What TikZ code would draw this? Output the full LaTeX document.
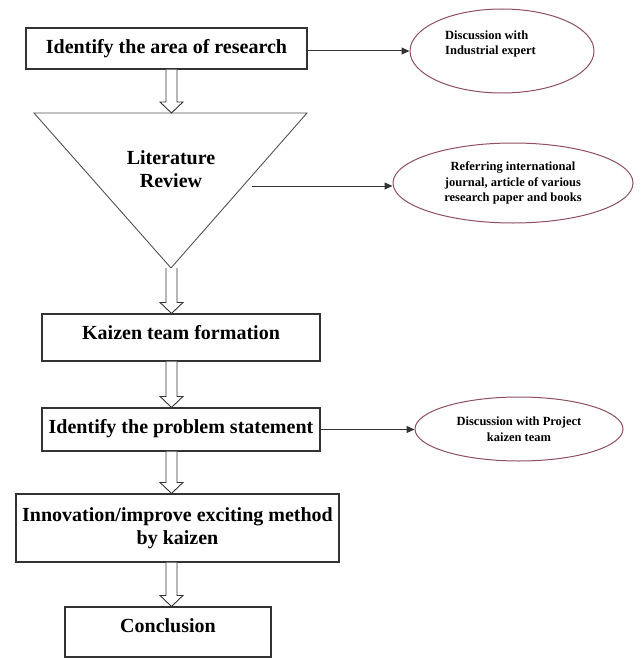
\documentclass[tikz,border=0pt]{standalone}
\usepackage{fontspec}
\setmainfont{Liberation Serif}
\usetikzlibrary{arrows.meta,shapes.geometric,calc}
\definecolor{edge}{HTML}{333333}
\definecolor{ring}{HTML}{8E4F5E}
\begin{document}
\begin{tikzpicture}[x=1pt,y=-1pt,
 box/.style={draw=edge,line width=1.1pt,rectangle,inner sep=0pt,font=\fontsize{20}{23}\selectfont\bfseries,align=center},
 oval/.style={draw=ring,line width=1pt,ellipse,inner sep=0pt,font=\fontsize{12.5}{15.5}\selectfont\bfseries,align=center},
 small/.style={inner sep=0pt,font=\fontsize{12.5}{15.5}\selectfont\bfseries},
 link/.style={draw=edge,line width=1pt,-{Triangle[length=8pt,width=7pt]}},
 barrow/.style={draw=edge,line width=0.9pt,fill=white,line join=miter,
   to path={let \p1=(\tikztostart),\p2=(\tikztotarget) in
     (\x1-5.5pt,\y1) -- (\x1-5.5pt,\y2+11pt) -- (\x1-11.5pt,\y2+11pt) -- (\x2,\y2)
     -- (\x1+11.5pt,\y2+11pt) -- (\x1+5.5pt,\y2+11pt) -- (\x1+5.5pt,\y1)}}
]
\useasboundingbox (0,0) rectangle (642,658);

% main column
\node[box,minimum width=281pt,minimum height=41pt,text height=13.5pt,text depth=3pt] (b1) at (166.5,48.5) {Identify the area of research};
\draw[draw=edge!85,line width=0.9pt] (34,113) -- (307,113) -- (171,268) -- cycle;
\coordinate (tt) at (171.5,113);
\coordinate (ta) at (171.5,268);
\node[inner sep=0pt,font=\fontsize{20}{23}\selectfont\bfseries,align=center] (lit) at (171,169) {Literature\\Review};
\node[box,minimum width=278pt,minimum height=47pt,text height=13.5pt,text depth=9pt] (b2) at (181,337.5) {Kaizen team formation};
\node[box,minimum width=278pt,minimum height=43pt,text height=13.5pt,text depth=5pt] (b3) at (181,429.5) {Identify the problem statement};
\node[box,minimum width=323pt,minimum height=68pt] (b4) at (177.5,528) {Innovation/improve exciting method\\by kaizen};
\node[box,minimum width=206pt,minimum height=50pt,text height=13.5pt,text depth=12pt] (b5) at (168,632) {Conclusion};

% side ellipses
\node[oval,minimum width=184pt,minimum height=84pt] (e1) at (502,51) {};
\node[small,align=left,anchor=west] (t1) at (445,44) {Discussion with\\Industrial expert};
\node[oval,minimum width=240pt,minimum height=80pt] (e2) at (513,183) {Referring international\\journal, article of various\\research paper and books};
\node[oval,minimum width=208pt,minimum height=64pt] (e3) at (519,429) {Discussion with Project\\kaizen team};

% thin arrows
\draw[link] (b1.east |- e1.west) -- (e1.west);
\coordinate (lr) at (252,186);
\draw[link] (lr) -- (lr -| e2.west);
\draw[link] (b3.east) -- (b3.east -| e3.west);

% block arrows
\draw[barrow] (b1.south -| tt) to (tt);
\draw[barrow] (ta) to (b2.north -| ta);
\draw[barrow] (b2.south -| ta) to (b3.north -| ta);
\draw[barrow] (b3.south -| ta) to (b4.north -| ta);
\draw[barrow] (b4.south -| ta) to (b5.north -| ta);
\end{tikzpicture}
\end{document}
